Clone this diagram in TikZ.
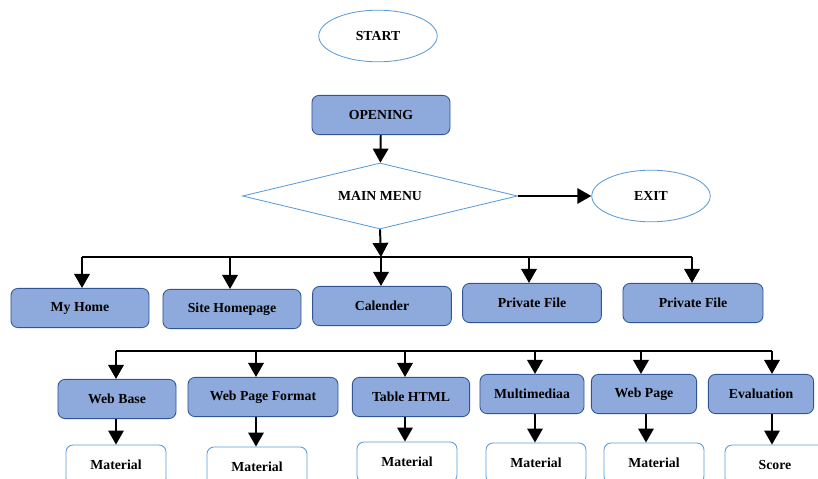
\documentclass[tikz,border=0pt]{standalone}
\usepackage{fontspec}
\setmainfont{Liberation Serif}
\usetikzlibrary{shapes.geometric,arrows.meta}
\definecolor{boxfill}{HTML}{8EA9DB}
\definecolor{boxline}{HTML}{2F5597}
\definecolor{edgeblue}{HTML}{5B9BD5}

\begin{document}
\begin{tikzpicture}[x=0.025cm,y=-0.025cm,
    font=\bfseries\fontsize{9.8}{11}\selectfont,
    block/.style={draw=boxline,fill=boxfill,rounded corners=5pt,semithick,minimum height=0.98cm},
    leaf/.style={draw=edgeblue,fill=white,rounded corners=5pt,semithick,minimum width=2.5cm,minimum height=1cm},
    term/.style={draw=edgeblue,ellipse,semithick,minimum width=2.96cm,minimum height=1.29cm},
    decide/.style={draw=edgeblue,diamond,aspect=4,semithick,minimum width=6.875cm,minimum height=1.65cm},
    arr/.style={-{Triangle[length=10pt,width=11pt]},line width=1.4pt},
    bus/.style={line width=1pt}]
  \useasboundingbox (0,0) rectangle (818,479);
  \clip (0,0) rectangle (818,479);

  % top part
  \node[term] (start) at (378,36) {START};
  \node[block,minimum width=3.45cm] (opening) at (381,115) {OPENING};
  \node[decide] (menu) at (380,196) {MAIN MENU};
  \node[term] (exit) at (651,196) {EXIT};
  \draw[arr] (opening) -- (menu);
  \draw[arr] (menu.east) -- (exit.west);

  % first row
  \node[block,minimum width=3.45cm] (home) at (80,308) {My Home};
  \node[block,minimum width=3.45cm] (site) at (232,309) {Site Homepage};
  \node[block,minimum width=3.47cm] (cal) at (382,306) {Calender};
  \node[block,minimum width=3.47cm] (priv) at (532,303) {Private File};
  \node[block,minimum width=3.5cm] (privb) at (693,303) {Private File};

  \coordinate (busa) at (82,257);
  \coordinate (busb) at (692,257);
  \draw[arr] (menu.south) -- (381,257);
  \draw[bus] (busa) -- (busb);
  \foreach \x/\n in {82/home,230/site,381/cal,529/priv,692/privb}
    \draw[arr] (\x,257) -- (\x,0 |- \n.north);

  % second row
  \node[block,minimum width=2.95cm] (wb) at (117,399) {Web Base};
  \node[block,minimum width=3.75cm] (wpf) at (263,397) {Web Page Format};
  \node[block,minimum width=2.93cm] (tab) at (411,397) {Table HTML};
  \node[block,minimum width=2.6cm] (mm) at (532,394) {Multimediaa};
  \node[block,minimum width=2.63cm] (wp) at (644,394) {Web Page};
  \node[block,minimum width=2.63cm] (ev) at (761,394) {Evaluation};

  \coordinate (busc) at (116,351);
  \coordinate (busd) at (772,351);
  \draw[bus] (busc) -- (busd);
  \foreach \x/\n in {116/wb,256/wpf,405/tab,535/mm,641/wp,772/ev}
    \draw[arr] (\x,351) -- (\x,0 |- \n.north);

  % third row
  \node[leaf] (mata) at (116,465) {Material};
  \node[leaf] (matb) at (257,467) {Material};
  \node[leaf] (matc) at (407,462) {Material};
  \node[leaf] (matd) at (536,463) {Material};
  \node[leaf] (mate) at (654,463) {Material};
  \node[leaf] (score) at (775,465) {Score};

  \foreach \x/\a/\b in {116/wb/mata,256/wpf/matb,405/tab/matc,535/mm/matd,646/wp/mate,772/ev/score}
    \draw[arr] (\x,0 |- \a.south) -- (\x,0 |- \b.north);
\end{tikzpicture}
\end{document}
